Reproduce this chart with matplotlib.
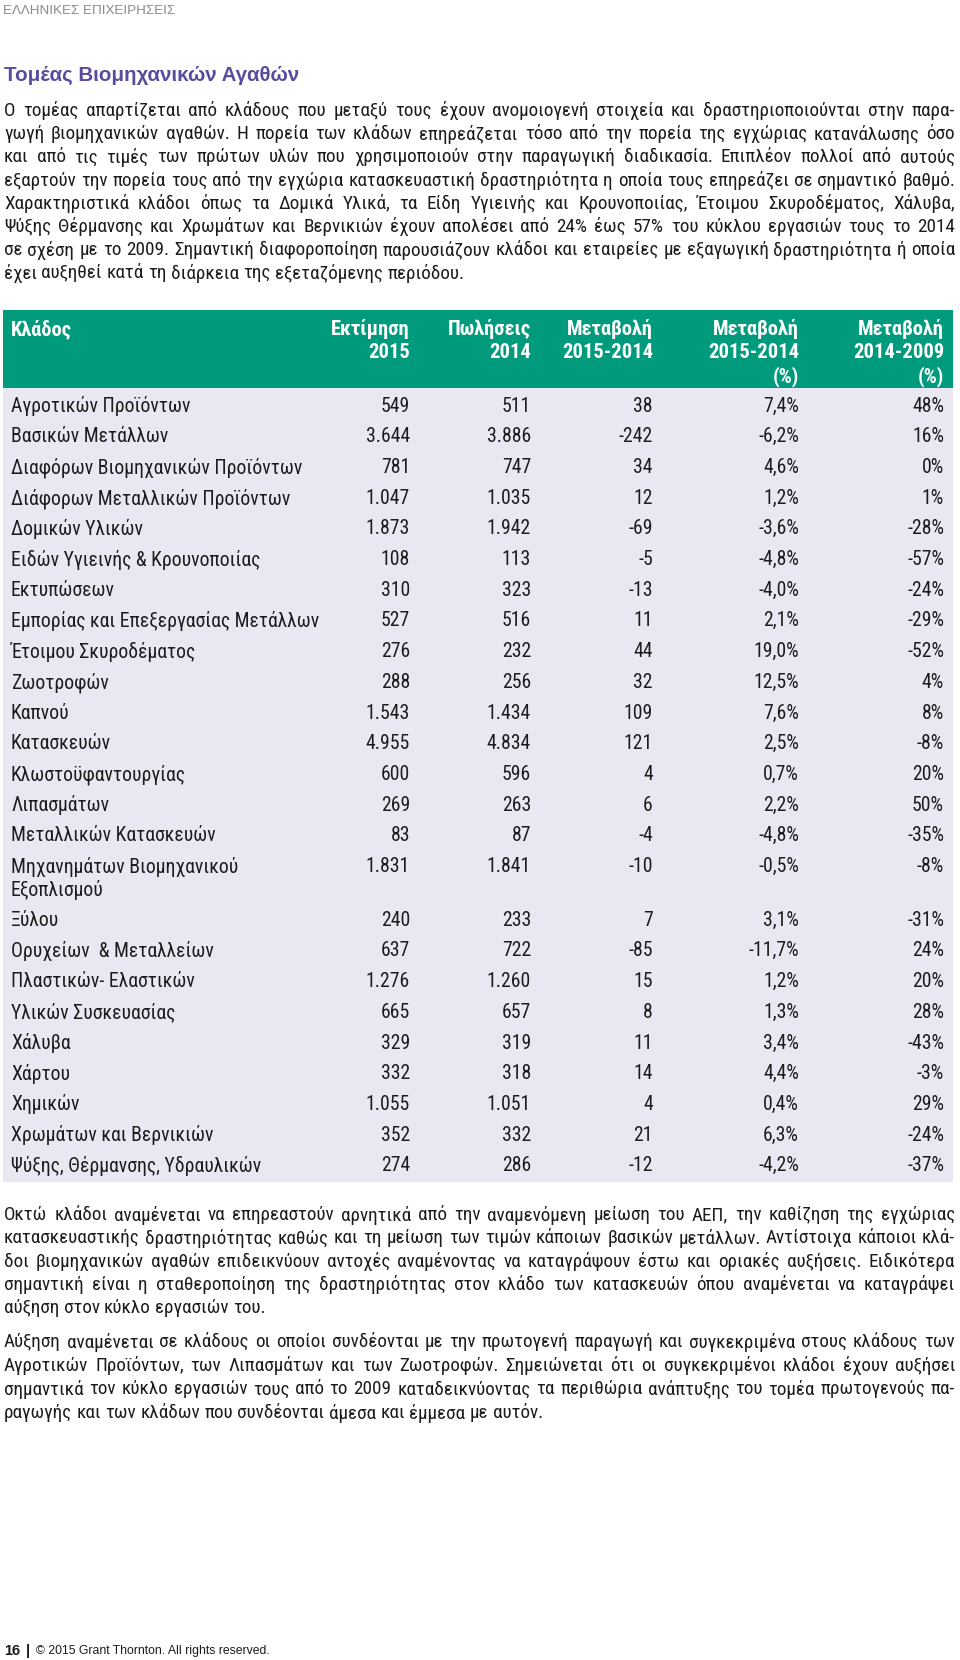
import matplotlib
matplotlib.use('Agg')
import matplotlib.pyplot as plt
import matplotlib.font_manager as fm
from matplotlib.patches import Rectangle

# ---- data ----
sectors = ['Αγροτικών Προϊόντων', 'Βασικών Μετάλλων', 'Διαφόρων Βιομηχανικών Προϊόντων',
           'Διάφορων Μεταλλικών Προϊόντων', 'Δομικών Υλικών', 'Ειδών Υγιεινής & Κρουνοποιίας',
           'Εκτυπώσεων', 'Εμπορίας και Επεξεργασίας Μετάλλων', 'Έτοιμου Σκυροδέματος',
           'Ζωοτροφών', 'Καπνού', 'Κατασκευών', 'Κλωστοϋφαντουργίας', 'Λιπασμάτων',
           'Μεταλλικών Κατασκευών', 'Μηχανημάτων Βιομηχανικού\nΕξοπλισμού', 'Ξύλου',
           'Ορυχείων  & Μεταλλείων', 'Πλαστικών- Ελαστικών', 'Υλικών Συσκευασίας', 'Χάλυβα',
           'Χάρτου', 'Χημικών', 'Χρωμάτων και Βερνικιών', 'Ψύξης, Θέρμανσης, Υδραυλικών']
est_2015 = [549, 3644, 781, 1047, 1873, 108, 310, 527, 276, 288, 1543, 4955, 600, 269, 83,
            1831, 240, 637, 1276, 665, 329, 332, 1055, 352, 274]
sales_2014 = [511, 3886, 747, 1035, 1942, 113, 323, 516, 232, 256, 1434, 4834, 596, 263, 87,
              1841, 233, 722, 1260, 657, 319, 318, 1051, 332, 286]
change_abs = [38, -242, 34, 12, -69, -5, -13, 11, 44, 32, 109, 121, 4, 6, -4,
              -10, 7, -85, 15, 8, 11, 14, 4, 21, -12]
change_pct = [7.4, -6.2, 4.6, 1.2, -3.6, -4.8, -4.0, 2.1, 19.0, 12.5, 7.6, 2.5, 0.7, 2.2, -4.8,
              -0.5, 3.1, -11.7, 1.2, 1.3, 3.4, 4.4, 0.4, 6.3, -4.2]
change_0914 = [48, 16, 0, 1, -28, -57, -24, -29, -52, 4, 8, -8, 20, 50, -35,
               -8, -31, 24, 20, 28, -43, -3, 29, -24, -37]

col_headers = [['Εκτίμηση', '2015'], ['Πωλήσεις', '2014'], ['Μεταβολή', '2015-2014'],
               ['Μεταβολή', '2015-2014', '(%)'], ['Μεταβολή', '2014-2009', '(%)']]

intro_lines = [
    'Ο τομέας απαρτίζεται από κλάδους που μεταξύ τους έχουν ανομοιογενή στοιχεία και δραστηριοποιούνται στην παρα-',
    'γωγή βιομηχανικών αγαθών. Η πορεία των κλάδων επηρεάζεται τόσο από την πορεία της εγχώριας κατανάλωσης όσο',
    'και από τις τιμές των πρώτων υλών που χρησιμοποιούν στην παραγωγική διαδικασία. Επιπλέον πολλοί από αυτούς',
    'εξαρτούν την πορεία τους από την εγχώρια κατασκευαστική δραστηριότητα η οποία τους επηρεάζει σε σημαντικό βαθμό.',
    'Χαρακτηριστικά κλάδοι όπως τα Δομικά Υλικά, τα Είδη Υγιεινής και Κρουνοποιίας, Έτοιμου Σκυροδέματος, Χάλυβα,',
    'Ψύξης Θέρμανσης και Χρωμάτων και Βερνικιών έχουν απολέσει από 24% έως 57% του κύκλου εργασιών τους το 2014',
    'σε σχέση με το 2009. Σημαντική διαφοροποίηση παρουσιάζουν κλάδοι και εταιρείες με εξαγωγική δραστηριότητα ή οποία',
    'έχει αυξηθεί κατά τη διάρκεια της εξεταζόμενης περιόδου.',
]
outro1_lines = [
    'Οκτώ κλάδοι αναμένεται να επηρεαστούν αρνητικά από την αναμενόμενη μείωση του ΑΕΠ, την καθίζηση της εγχώριας',
    'κατασκευαστικής  δραστηριότητας καθώς και τη μείωση των τιμών κάποιων βασικών μετάλλων. Αντίστοιχα κάποιοι κλά-',
    'δοι βιομηχανικών αγαθών επιδεικνύουν αντοχές αναμένοντας να καταγράψουν έστω και οριακές αυξήσεις. Ειδικότερα',
    'σημαντική είναι η σταθεροποίηση της δραστηριότητας στον κλάδο των κατασκευών όπου αναμένεται να καταγράψει',
    'αύξηση στον κύκλο εργασιών του.',
]
outro2_lines = [
    'Αύξηση αναμένεται σε κλάδους οι οποίοι συνδέονται με την πρωτογενή παραγωγή και συγκεκριμένα στους κλάδους των',
    'Αγροτικών Προϊόντων, των Λιπασμάτων και των Ζωοτροφών. Σημειώνεται ότι οι συγκεκριμένοι κλάδοι έχουν αυξήσει',
    'σημαντικά τον κύκλο εργασιών τους από το 2009 καταδεικνύοντας τα περιθώρια ανάπτυξης του τομέα πρωτογενούς πα-',
    'ραγωγής και των κλάδων που συνδέονται άμεσα και έμμεσα με αυτόν.',
]

GREEN = '#009B7D'
LAVENDER = '#E9E7F2'
PURPLE = '#5B4B9E'
INK = '#1E1B1C'

# pick a condensed family if one is installed
available = {f.name for f in fm.fontManager.ttflist}
body_family, body_stretch = 'Liberation Sans', 'normal'
for cand in ['Roboto Condensed', 'Liberation Sans Narrow', 'Open Sans Condensed',
             'Noto Sans Condensed', 'DejaVu Sans Condensed']:
    if cand in available:
        body_family = cand
        break
else:
    for f in fm.fontManager.ttflist:
        if f.name == 'DejaVu Sans' and 'ondensed' in str(f.stretch):
            body_family, body_stretch = 'DejaVu Sans', 'condensed'
            break

fig = plt.figure(figsize=(9.6, 16.6), dpi=100)
ax = fig.add_axes([0, 0, 1, 1])
ax.set_xlim(0, 960)
ax.set_ylim(1660, 0)
ax.axis('off')
renderer = fig.canvas.get_renderer()


def width_of(s, **kw):
    t = ax.text(0, 0, s, **kw)
    w = t.get_window_extent(renderer).width
    t.remove()
    return w


# fit body font size so the tightest line fills the column
X0, X1 = 4, 955
base = dict(family=body_family, fontstretch=body_stretch)
widest = max(width_of(l, fontsize=10, **base) for l in intro_lines + outro1_lines + outro2_lines)
body_size = min(14.5, 10 * (X1 - X0) / widest * 0.995)
body = dict(base, fontsize=body_size, color=INK)
VA = 'center_baseline'


def paragraph(lines, y0, step):
    space = width_of('x x', **body) - width_of('xx', **body)
    for i, line in enumerate(lines):
        y = y0 + i * step
        words = line.split()
        objs = [ax.text(0, y, w, ha='left', va=VA, **body) for w in words]
        widths = [o.get_window_extent(renderer).width for o in objs]
        last = i == len(lines) - 1
        gap = space if last else (X1 - X0 - sum(widths)) / (len(words) - 1)
        x = X0
        for o, w in zip(objs, widths):
            o.set_x(x)
            x += w + gap


# page header / title
ax.text(3, 9, 'ΕΛΛΗΝΙΚΕΣ ΕΠΙΧΕΙΡΗΣΕΙΣ', family='Liberation Sans', fontsize=9.6,
        color='#8A8A8A', ha='left', va=VA)
ax.text(4, 73, 'Τομέας Βιομηχανικών Αγαθών', family='Liberation Sans', fontsize=14.8,
        fontweight='bold', color=PURPLE, ha='left', va=VA)

paragraph(intro_lines, 109, 23.2)

# table
col_right = [410, 531, 653, 799, 944]
tbl_left, tbl_right, tbl_top, head_bottom, tbl_bottom = 3, 953, 310, 388, 1182
ax.add_patch(Rectangle((tbl_left, tbl_top), tbl_right - tbl_left, head_bottom - tbl_top,
                       facecolor=GREEN, edgecolor='none'))
ax.add_patch(Rectangle((tbl_left, head_bottom), tbl_right - tbl_left, tbl_bottom - head_bottom,
                       facecolor=LAVENDER, edgecolor='none'))

head = dict(base, fontsize=body_size * 1.07, color='white', fontweight='bold', va=VA)
ax.text(11, 327, 'Κλάδος', ha='left', **head)
for xr, lines in zip(col_right, col_headers):
    for j, s in enumerate(lines):
        ax.text(xr, 327 + j * 23.5, s, ha='right', **head)


def fmt_int(v):
    return f'{v:,}'.replace(',', '.')


def fmt_pct1(v):
    return f'{v:.1f}'.replace('.', ',') + '%'


cell = dict(body, fontsize=body_size * 1.03)
y = 404
for i, name in enumerate(sectors):
    parts = name.split('\n')
    for j, p in enumerate(parts):
        ax.text(11, y + j * 23, p, ha='left', va=VA, **cell)
    vals = [fmt_int(est_2015[i]), fmt_int(sales_2014[i]), str(change_abs[i]),
            fmt_pct1(change_pct[i]), f'{change_0914[i]}%']
    for xr, v in zip(col_right, vals):
        ax.text(xr, y, v, ha='right', va=VA, **cell)
    y += 30.7 + 23 * (len(parts) - 1)

paragraph(outro1_lines, 1213, 23.3)
paragraph(outro2_lines, 1340, 23.7)

# footer
ax.text(4, 1649, '16', family='Liberation Sans', fontsize=10.5, fontweight='bold',
        color=INK, ha='left', va=VA)
ax.text(26, 1649, '|', family='Liberation Sans', fontsize=10.5, fontweight='bold',
        color=INK, ha='left', va=VA)
ax.text(36, 1649, '© 2015 Grant Thornton. All rights reserved.', family='Liberation Sans',
        fontsize=8.8, color=INK, ha='left', va=VA)

fig.savefig('out.png', dpi=100)
